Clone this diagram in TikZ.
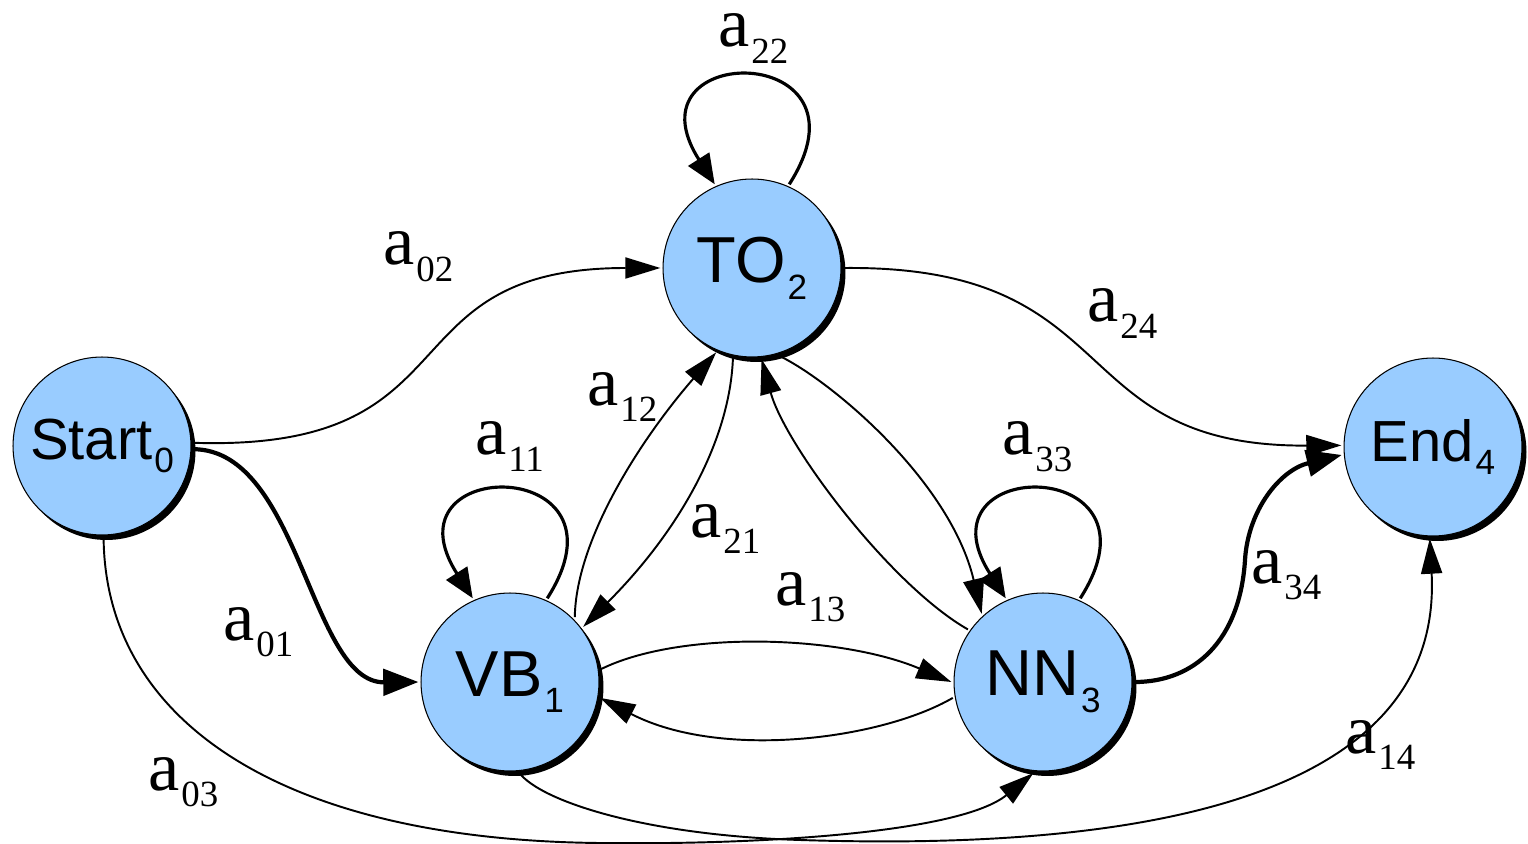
\documentclass[tikz,border=0pt]{standalone}
\usepackage{fontspec}
\setmainfont{Liberation Sans}
\newfontfamily\labfont{Liberation Serif}
\usetikzlibrary{arrows.meta,shadows}
\definecolor{stateblue}{RGB}{153,204,255}
\newcommand{\tlab}[1]{{\labfont\fontsize{40}{40}\selectfont a\kern1pt\raisebox{-9.5pt}{\fontsize{21}{21}\selectfont #1}}}
\newcommand{\stname}[4]{{\fontsize{#1}{#1}\selectfont #2\kern1pt\raisebox{-#4}{\fontsize{20}{20}\selectfont #3}}}
\begin{document}
\begin{tikzpicture}[x={(0.02cm,0)},y={(0,-0.02cm)},
  state/.style={circle,draw=black,line width=0.6pt,fill=stateblue,minimum size=3.56cm,inner sep=0pt,outer sep=1.5pt,
    drop shadow={shadow xshift=0.09cm,shadow yshift=-0.1cm,fill=black,opacity=1}},
  edge/.style={line width=1.1pt,-{Triangle[length=20pt,width=12pt]}},
  thickedge/.style={line width=2.4pt,-{Triangle[length=20pt,width=15pt]}},
  loopedge/.style={line width=1.8pt,-{Triangle[length=17pt,width=14pt]}},
  lab/.style={anchor=base west,inner sep=0pt}]
\useasboundingbox (0,0) rectangle (1528,844);

\node[state] (S) at (102,446) {\stname{33}{Start}{0}{7.5pt}};
\node[state] (T) at (752,268) {\stname{37}{TO}{2}{9.5pt}};
\node[state] (V) at (510,682) {\stname{37}{VB}{1}{9.5pt}};
\node[state] (N) at (1043,682) {\stname{37}{NN}{3}{9.5pt}};
\node[state] (E) at (1433,447) {\stname{33}{End}{4}{7.5pt}};

% self loops
\draw[loopedge] (T.66) .. controls +(92,-144) and +(-92,-144) .. (T.114);
\draw[loopedge] (V.66) .. controls +(92,-144) and +(-92,-144) .. (V.114);
\draw[loopedge] (N.66) .. controls +(92,-144) and +(-92,-144) .. (N.114);

% from Start
\draw[edge] (S.2) .. controls (480,452) and (380,268) .. (T.180);
\draw[thickedge] (S.-2) .. controls (300,450) and (310,683) .. (V.180);
\draw[edge] (S.-89) .. controls (105,720) and (280,840) .. (600,843) .. controls (760,845) and (960,833) .. (N.-96);

% VB <-> TO
\draw[edge] (V.45) .. controls (576,540) and (640,440) .. (T.-113);
\draw[edge] (T.-102) .. controls (730,440) and (680,530) .. (V.37);

% TO <-> NN
\draw[edge] (T.-73) .. controls (830,380) and (950,480) .. (N.132);
\draw[edge] (N.145) .. controls (890,585) and (785,445) .. (T.-84);

% VB <-> NN
\draw[edge] (V.8) .. controls (680,630) and (840,635) .. (N.180);
\draw[edge] (N.-170) .. controls (880,740) and (720,760) .. (V.-10);

% to End
\draw[edge] (T.0) .. controls (1130,265) and (1060,447) .. (E.179);
\draw[thickedge] (N.0) .. controls (1195,682) and (1240,640) .. (1245,560) .. controls (1248,510) and (1280,470) .. (E.185);
\draw[edge] (V.-84) .. controls (540,800) and (640,835) .. (800,840) .. controls (1050,848) and (1445,830) .. (E.-92);

% labels
\node[lab] (l22) at (718,47) {\tlab{22}};
\node[lab] (l02) at (383,265) {\tlab{02}};
\node[lab] (l24) at (1087,322) {\tlab{24}};
\node[lab] (l12) at (587,405) {\tlab{12}};
\node[lab] (l11) at (475,455) {\tlab{11}};
\node[lab] (l21) at (690,537) {\tlab{21}};
\node[lab] (l33) at (1002,455) {\tlab{33}};
\node[lab] (l13) at (775,605) {\tlab{13}};
\node[lab] (l01) at (223,640) {\tlab{01}};
\node[lab] (l34) at (1251,583) {\tlab{34}};
\node[lab] (l03) at (148,790) {\tlab{03}};
\node[lab] (l14) at (1345,753) {\tlab{14}};
\end{tikzpicture}
\end{document}
